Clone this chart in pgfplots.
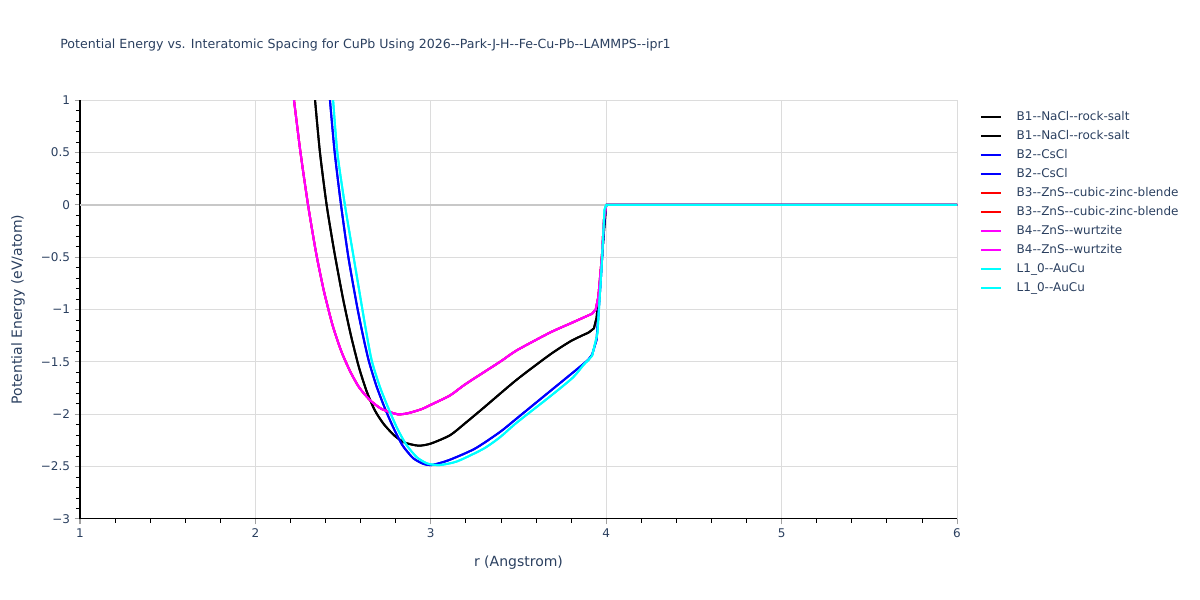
\documentclass[border=0pt]{standalone}
\usepackage{fontspec}
\setmainfont{DejaVu Sans}
\usepackage{pgfplots}
\usepackage{pgfplotstable}
\pgfplotsset{compat=1.18}
\definecolor{txt}{HTML}{2A3F5F}
\definecolor{grd}{HTML}{DCDCDC}
\definecolor{zl}{HTML}{C8C8C8}
\definecolor{tk}{HTML}{A0A0A0}
\definecolor{cBlack}{HTML}{000000}
\definecolor{cBlue}{HTML}{0000FF}
\definecolor{cRed}{HTML}{FF0000}
\definecolor{cMag}{HTML}{FF00FF}
\definecolor{cCyan}{HTML}{00FFFF}

% B1 (NaCl rock-salt)
\pgfplotstableread{
r E
2.34 1.0
2.368 0.5
2.406 0.0
2.45 -0.45
2.50 -0.90
2.545 -1.25
2.59 -1.55
2.634 -1.78
2.68 -1.96
2.73 -2.09
2.79 -2.20
2.85 -2.27
2.93 -2.30
3.0 -2.28
3.11 -2.20
3.2 -2.08
3.30 -1.94
3.49 -1.67
3.68 -1.43
3.80 -1.30
3.90 -1.22
}\tabBone
\pgfplotstableread{
r E
3.90 -1.22
3.93 -1.18
3.945 -1.08
3.964 -0.75
3.985 -0.30
4.0 0
6.0 0
}\tabBoneT

% B2 (CsCl)
\pgfplotstableread{
r E
2.425 1.0
2.452 0.5
2.488 0.0
2.53 -0.5
2.583 -1.0
2.62 -1.3
2.648 -1.5
2.69 -1.73
2.74 -1.95
2.79 -2.14
2.84 -2.30
2.90 -2.42
2.96 -2.475
3.005 -2.485
3.1 -2.44
3.25 -2.33
3.394 -2.17
3.49 -2.04
3.68 -1.78
3.87 -1.52
3.90 -1.475
}\tabBtwo
\pgfplotstableread{
r E
3.90 -1.475
3.92 -1.43
3.945 -1.29
3.968 -0.75
3.99 -0.15
4.0 0
6.0 0
}\tabBtwoT

% B3/B4 (ZnS)
\pgfplotstableread{
r E
2.22 1.0
2.257 0.5
2.30 0.0
2.345 -0.45
2.39 -0.82
2.44 -1.15
2.49 -1.40
2.54 -1.59
2.59 -1.74
2.65 -1.86
2.72 -1.95
2.81 -2.0
2.87 -1.99
2.95 -1.95
3.0 -1.91
3.11 -1.82
3.2 -1.71
3.394 -1.50
3.49 -1.39
3.68 -1.22
3.80 -1.13
3.92 -1.04
}\tabBfour
\pgfplotstableread{
r E
3.92 -1.04
3.94 -1.00
3.955 -0.88
3.975 -0.5
3.987 -0.145
4.0 0
6.0 0
}\tabBfourT

% L1_0 (AuCu)
\pgfplotstableread{
r E
2.443 1.0
2.467 0.5
2.51 0.0
2.56 -0.5
2.61 -1.0
2.64 -1.29
2.665 -1.5
2.71 -1.74
2.76 -1.95
2.81 -2.14
2.86 -2.29
2.92 -2.41
2.98 -2.47
3.05 -2.485
3.15 -2.45
3.30 -2.33
3.394 -2.22
3.49 -2.08
3.68 -1.83
3.81 -1.65
3.87 -1.53
3.90 -1.48
}\tabLone
\pgfplotstableread{
r E
3.90 -1.48
3.92 -1.44
3.95 -1.23
3.974 -0.59
3.99 -0.05
4.0 0
6.0 0
}\tabLoneT

\begin{document}
\begin{tikzpicture}
\path[use as bounding box] (0,0) rectangle (900pt,450pt);
\node[anchor=west, text=txt, inner sep=0pt, font=\fontsize{9.45pt}{11pt}\selectfont] at (45pt,416.25pt)
  {Potential Energy vs. Interatomic Spacing for CuPb Using 2026-{}-Park-J-H-{}-Fe-Cu-Pb-{}-LAMMPS-{}-ipr1};
\begin{axis}[
  at={(60pt,60.75pt)}, anchor=south west,
  scale only axis, width=657.75pt, height=314.25pt,
  xmin=1, xmax=6, ymin=-3, ymax=1,
  axis x line*=bottom, axis y line*=left,
  axis line style={black, line width=0.75pt},
  xtick={1,2,3,4,5,6},
  ytick={-3,-2.5,-2,-1.5,-1,-0.5,0,0.5,1},
  yticklabels={−3,−2.5,−2,−1.5,−1,−0.5,0,0.5,1},
  minor x tick num=4, minor y tick num=4,
  tick align=outside,
  major tick length=4pt, minor tick length=3pt,
  every major tick/.append style={tk, line width=0.75pt},
  every minor tick/.append style={black, line width=0.6pt},
  grid=major,
  major grid style={grd, line width=0.75pt},
  extra y ticks={0}, extra y tick labels={},
  extra y tick style={major grid style={zl, line width=1.5pt}, major tick length=0pt},
  tick label style={text=txt, font=\fontsize{9pt}{10pt}\selectfont},
  /pgf/number format/assume math mode=true,
  xlabel={r (Angstrom)}, ylabel={Potential Energy (eV/atom)},
  label style={text=txt, font=\fontsize{10.5pt}{12pt}\selectfont},
  xlabel style={at={(axis description cs:0.5,-0.105)}, anchor=center},
  ylabel style={at={(axis description cs:-0.0707,0.5)}, anchor=center},
  legend style={at={(axis description cs:1.026,0.975)}, anchor=north west,
    draw=none, fill=none, inner sep=0pt, row sep=5.25pt,
    font=\fontsize{9pt}{10pt}\selectfont, text=txt,
    nodes={inner sep=0pt, text height=7pt, text depth=2pt},
    /tikz/every odd column/.append style={column sep=11pt}},
  legend cell align=left,
  legend image code/.code={\draw[#1, line width=1.5pt] (0pt,0pt) -- (15pt,0pt);},
  every axis plot/.append style={line width=1.5pt, no marks, line join=round},
  clip=true,
]
\addplot[cBlack, smooth, tension=0.4] table[x=r,y=E] {\tabBone};
\addlegendentry{B1-{}-NaCl-{}-rock-salt}
\addplot[cBlack, forget plot] table[x=r,y=E] {\tabBoneT};
\addplot[cBlack, smooth, tension=0.4] table[x=r,y=E] {\tabBone};
\addlegendentry{B1-{}-NaCl-{}-rock-salt}
\addplot[cBlack, forget plot] table[x=r,y=E] {\tabBoneT};
\addplot[cBlue, smooth, tension=0.4] table[x=r,y=E] {\tabBtwo};
\addlegendentry{B2-{}-CsCl}
\addplot[cBlue, forget plot] table[x=r,y=E] {\tabBtwoT};
\addplot[cBlue, smooth, tension=0.4] table[x=r,y=E] {\tabBtwo};
\addlegendentry{B2-{}-CsCl}
\addplot[cBlue, forget plot] table[x=r,y=E] {\tabBtwoT};
\addplot[cRed, smooth, tension=0.4] table[x=r,y=E] {\tabBfour};
\addlegendentry{B3-{}-ZnS-{}-cubic-zinc-blende}
\addplot[cRed, forget plot] table[x=r,y=E] {\tabBfourT};
\addplot[cRed, smooth, tension=0.4] table[x=r,y=E] {\tabBfour};
\addlegendentry{B3-{}-ZnS-{}-cubic-zinc-blende}
\addplot[cRed, forget plot] table[x=r,y=E] {\tabBfourT};
\addplot[cMag, smooth, tension=0.4] table[x=r,y=E] {\tabBfour};
\addlegendentry{B4-{}-ZnS-{}-wurtzite}
\addplot[cMag, forget plot] table[x=r,y=E] {\tabBfourT};
\addplot[cMag, smooth, tension=0.4] table[x=r,y=E] {\tabBfour};
\addlegendentry{B4-{}-ZnS-{}-wurtzite}
\addplot[cMag, forget plot] table[x=r,y=E] {\tabBfourT};
\addplot[cCyan, smooth, tension=0.4] table[x=r,y=E] {\tabLone};
\addlegendentry{L1\_0-{}-AuCu}
\addplot[cCyan, forget plot] table[x=r,y=E] {\tabLoneT};
\addplot[cCyan, smooth, tension=0.4] table[x=r,y=E] {\tabLone};
\addlegendentry{L1\_0-{}-AuCu}
\addplot[cCyan, forget plot] table[x=r,y=E] {\tabLoneT};
\end{axis}
\end{tikzpicture}
\end{document}
